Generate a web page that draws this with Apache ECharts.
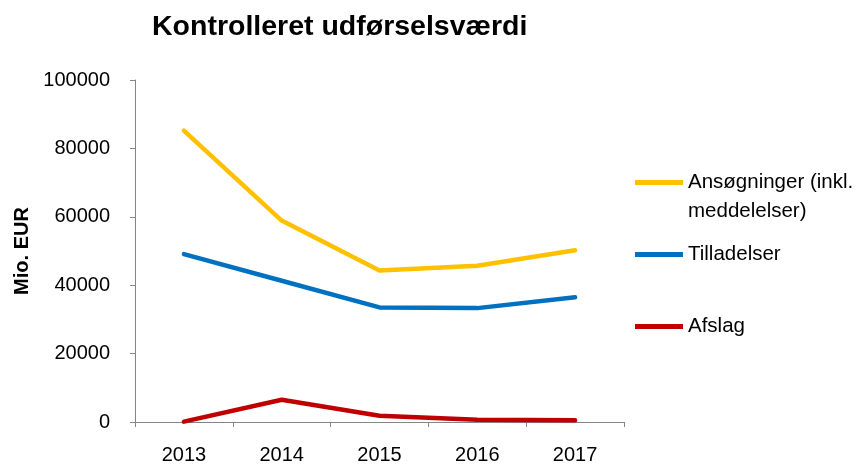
<!DOCTYPE html>
<html>
<head>
<meta charset="utf-8">
<script src="https://cdn.jsdelivr.net/npm/echarts@6/dist/echarts.min.js"></script>
<style>html,body{margin:0;padding:0;background:#fff}#c{width:865px;height:468px}</style>
</head>
<body>
<div id="c"></div>
<script>
const categories = ['2013', '2014', '2015', '2016', '2017'];
const ansoegninger = [85200, 58900, 44300, 45700, 50200];
const tilladelser = [49100, 41300, 33500, 33300, 36500];
const afslag = [100, 6500, 1850, 650, 500];
const yTicks = { min: 0, max: 100000, interval: 20000 };

const names = ['Ansøgninger (inkl. meddelelser)', 'Tilladelser', 'Afslag'];
const colors = ['#FFC000', '#0070C0', '#C00000'];
const font = '"Liberation Sans", Arial, sans-serif';

const chart = echarts.init(document.getElementById('c'), null, { renderer: 'canvas' });
const legendBase = {
  orient: 'vertical', left: 635, padding: 0, itemGap: 0,
  icon: 'rect', itemWidth: 48, itemHeight: 5,
  textStyle: { fontFamily: font, fontSize: 20.5, color: '#000', lineHeight: 29 }
};
chart.setOption({
  animation: false,
  title: {
    text: 'Kontrolleret udførselsværdi', left: 147, top: 8,
    textStyle: { fontFamily: font, fontWeight: 'bold', fontSize: 28.5, color: '#000' }
  },
  legend: [
    Object.assign({}, legendBase, {
      top: 139, data: [names[0]],
      formatter: () => '\nAnsøgninger (inkl.\nmeddelelser)'
    }),
    Object.assign({}, legendBase, { top: 240, data: [names[1]] }),
    Object.assign({}, legendBase, { top: 312, data: [names[2]] })
  ],
  grid: { left: 135, right: 241, top: 80, bottom: 46, containLabel: false },
  xAxis: {
    type: 'category', data: categories, boundaryGap: true,
    axisLine: { lineStyle: { color: '#868686', width: 1 } },
    axisTick: { show: true, length: 5, lineStyle: { color: '#868686' } },
    axisLabel: { fontFamily: font, fontSize: 20, color: '#000', margin: 23 }
  },
  yAxis: {
    type: 'value', min: yTicks.min, max: yTicks.max, interval: yTicks.interval,
    name: 'Mio. EUR', nameLocation: 'middle', nameGap: 103,
    nameTextStyle: { fontFamily: font, fontWeight: 'bold', fontSize: 20, color: '#000' },
    axisLine: { show: true, lineStyle: { color: '#868686', width: 1 } },
    axisTick: { show: true, length: 5, lineStyle: { color: '#868686' } },
    axisLabel: { fontFamily: font, fontSize: 20, color: '#000', margin: 25, formatter: v => String(v) },
    splitLine: { show: false }
  },
  series: [ansoegninger, tilladelser, afslag].map((d, i) => ({
    name: names[i], type: 'line', data: d, symbol: 'none', smooth: false,
    color: colors[i],
    lineStyle: { color: colors[i], width: 4.5, cap: 'round', join: 'round' }
  }))
});
</script>
</body>
</html>
